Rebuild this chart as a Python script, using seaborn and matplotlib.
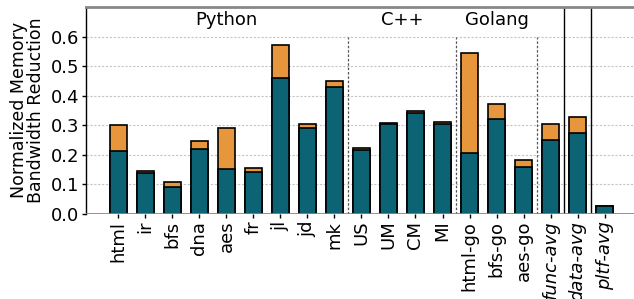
import matplotlib
matplotlib.use("Agg")
import matplotlib.pyplot as plt
import seaborn as sns
import pandas as pd

categories = ["html", "ir", "bfs", "dna", "aes", "fr", "jl", "jd", "mk",
              "US", "UM", "CM", "MI",
              "html-go", "bfs-go", "aes-go",
              "func-avg", "data-avg", "pltf-avg"]
base_vals = [0.212, 0.138, 0.089, 0.220, 0.153, 0.141, 0.459, 0.292, 0.430,
             0.215, 0.304, 0.342, 0.304,
             0.206, 0.320, 0.159,
             0.249, 0.272, 0.026]
total_vals = [0.299, 0.146, 0.106, 0.245, 0.292, 0.155, 0.573, 0.305, 0.451,
              0.222, 0.307, 0.349, 0.311,
              0.543, 0.372, 0.181,
              0.303, 0.329, 0.026]
group_labels = ["Python", "C++", "Golang"]
yticks = [0.0, 0.1, 0.2, 0.3, 0.4, 0.5, 0.6]

df = pd.DataFrame({"cat": categories, "base": base_vals, "total": total_vals})

sns.set_style("white")
plt.rcParams["font.family"] = ["DejaVu Sans"]
plt.rcParams["text.color"] = "black"
plt.rcParams["axes.labelcolor"] = "black"
plt.rcParams["xtick.color"] = "black"
plt.rcParams["ytick.color"] = "black"

fig = plt.figure(figsize=(6.34, 2.99), dpi=100)
ax = fig.add_axes([0.1356, 0.285, 1 - 0.1356, 0.6916])

orange = "#e8963c"
teal = "#0b6373"

sns.barplot(data=df, x="cat", y="total", order=categories, color=orange,
            width=0.62, edgecolor="black", linewidth=1.2, saturation=1,
            ax=ax, zorder=3)
sns.barplot(data=df, x="cat", y="base", order=categories, color=teal,
            width=0.62, edgecolor="black", linewidth=1.2, saturation=1,
            ax=ax, zorder=3)

ax.set_xlim(-1.2, 19.09)
ax.set_ylim(0, 0.7)
ax.set_yticks(yticks)
ax.set_yticklabels([f"{v:.1f}" for v in yticks], fontsize=13)
ax.set_xticks(range(len(categories)))
ax.set_xticklabels(categories, rotation=90, fontsize=13)
for lbl in ax.get_xticklabels():
    if lbl.get_text().endswith("-avg"):
        lbl.set_style("italic")
ax.tick_params(axis="both", length=3, width=1, direction="out", pad=2)
ax.tick_params(axis="x", bottom=True)
ax.tick_params(axis="y", left=True)

ax.set_xlabel("")
ax.set_ylabel("Normalized Memory\nBandwidth Reduction", fontsize=12.5, linespacing=0.95)

for v in yticks[1:]:
    ax.axhline(v, color="#c4c4c4", linestyle=(0, (2, 1.5)), linewidth=0.8, zorder=0)
ax.axhline(0, color="#888888", linewidth=2, zorder=4)

for xv in [8.5, 12.5, 15.5]:
    ax.plot([xv, xv], [0, 0.6], color="#555555", linestyle=(0, (2, 1.5)), linewidth=0.9, zorder=2)
for xv in [16.5, 17.5]:
    ax.axvline(xv, color="black", linewidth=1.0, zorder=2)

ax.text(4, 0.655, group_labels[0], ha="center", va="center", fontsize=13)
ax.text(10.5, 0.655, group_labels[1], ha="center", va="center", fontsize=13)
ax.text(14, 0.655, group_labels[2], ha="center", va="center", fontsize=13)

ax.spines["left"].set_color("black")
ax.spines["left"].set_linewidth(1.0)
ax.spines["top"].set_color("#888888")
ax.spines["top"].set_linewidth(2)
ax.spines["right"].set_visible(False)
ax.spines["bottom"].set_visible(False)

fig.savefig("out.png", dpi=100)
